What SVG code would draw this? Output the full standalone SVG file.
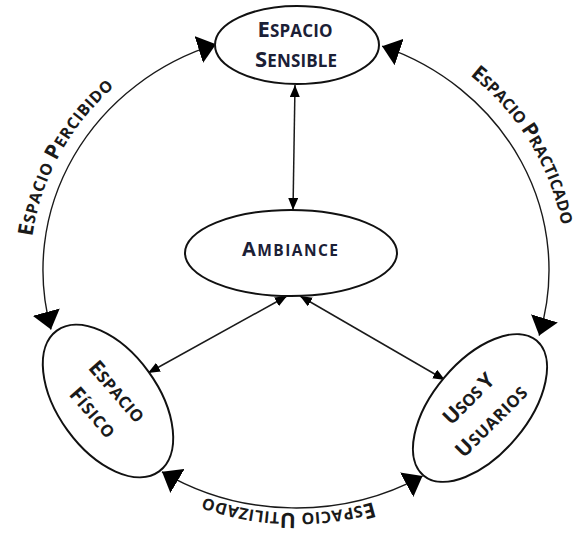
<svg xmlns="http://www.w3.org/2000/svg" width="581" height="537" viewBox="0 0 581 537">
<style>
.node ellipse{fill:#fff;stroke:#111;stroke-width:2}
.t{font-family:"Open Sans","Liberation Sans",sans-serif;font-weight:700;fill:#1a1a1a;text-anchor:middle}
.tb{fill:#1b2036}
.conn path{fill:none;stroke:#1a1a1a}
.arc{stroke-width:1.4}
.ar{stroke-width:1.5}
.lbl{font-family:"Open Sans","Liberation Sans",sans-serif;font-weight:700;fill:#1a1a1a}
.c{font-size:21px}
.s{font-size:16px}
</style>
<defs>
<marker id="big" viewBox="0 0 18 28" refX="18" refY="14" markerWidth="18" markerHeight="28" markerUnits="userSpaceOnUse" orient="auto-start-reverse"><path d="M0,0 L18,14 L0,28 z" fill="#000"/></marker>
<marker id="sm" viewBox="0 0 12 10" refX="12" refY="5" markerWidth="12" markerHeight="10" markerUnits="userSpaceOnUse" orient="auto-start-reverse"><path d="M0,0 L12,5 L0,10 z" fill="#000"/></marker>
<path id="pL" d="M34,313.6 A266 251 0 0 1 179.4,44.4"/>
<path id="pR" d="M403,36 A270 255 0 0 1 563.7,302.8"/>
<path id="pB" d="M444,469.1 A258 243 0 0 1 135,459.9"/>
</defs>
<rect width="581" height="537" fill="#fff"/>
<g class="conn" id="connectors">
<path class="arc" d="M216,44.2 A253 238 0 0 0 51,329.5" marker-start="url(#big)" marker-end="url(#big)"/>
<path class="arc" d="M382.1,46.2 A253 238 0 0 1 539.2,335.6" marker-start="url(#big)" marker-end="url(#big)"/>
<path class="arc" d="M162,471.8 A253 238 0 0 0 422.5,476.1" marker-start="url(#big)" marker-end="url(#big)"/>
<path class="ar" d="M295,85 L293,210" marker-start="url(#sm)" marker-end="url(#sm)"/>
<path class="ar" d="M287,296 L148,373" marker-start="url(#sm)" marker-end="url(#sm)"/>
<path class="ar" d="M300,296 L445,380" marker-start="url(#sm)" marker-end="url(#sm)"/>
</g>
<g id="labels">
<text class="lbl" letter-spacing="0.7"><textPath href="#pL" startOffset="50%" text-anchor="middle"><tspan class="c">E</tspan><tspan class="s">SPACIO </tspan><tspan class="c">P</tspan><tspan class="s">ERCIBIDO</tspan></textPath></text>
<text class="lbl" letter-spacing="0"><textPath href="#pR" startOffset="50%" text-anchor="middle"><tspan class="c">E</tspan><tspan class="s">SPACIO </tspan><tspan class="c">P</tspan><tspan class="s">RACTICADO</tspan></textPath></text>
<text class="lbl" letter-spacing="0.5"><textPath href="#pB" startOffset="50%" text-anchor="middle"><tspan class="c">E</tspan><tspan class="s">SPACIO </tspan><tspan class="c">U</tspan><tspan class="s">TILIZADO</tspan></textPath></text>
</g>
<g class="node" id="espacio-sensible">
<ellipse cx="297" cy="45" rx="82" ry="39"/>
<text class="t tb" x="295" y="37" textLength="75" lengthAdjust="spacing"><tspan font-size="22">E</tspan><tspan font-size="17">SPACIO</tspan></text>
<text class="t tb" x="296" y="67" textLength="82" lengthAdjust="spacing"><tspan font-size="22">S</tspan><tspan font-size="17">ENSIBLE</tspan></text>
</g>
<g class="node" id="ambiance">
<ellipse cx="291" cy="253" rx="106" ry="43"/>
<text class="t tb" x="290" y="256" textLength="96" lengthAdjust="spacing"><tspan font-size="20">A</tspan><tspan font-size="15.5">MBIANCE</tspan></text>
</g>
<g class="node" id="espacio-fisico">
<ellipse cx="108" cy="401" rx="87" ry="50" transform="rotate(54 108 401)"/>
<g transform="translate(105 402) rotate(49)">
<text class="t" x="0" y="-9" textLength="74" lengthAdjust="spacing"><tspan font-size="21">E</tspan><tspan font-size="16.5">SPACIO</tspan></text>
<text class="t" x="0" y="23" textLength="59" lengthAdjust="spacing"><tspan font-size="21">F</tspan><tspan font-size="16.5">ÍSICO</tspan></text>
</g>
</g>
<g class="node" id="usos-usuarios">
<ellipse cx="480" cy="408" rx="88" ry="47" transform="rotate(-50 480 408)"/>
<g transform="translate(480 410) rotate(-45)">
<text class="t" x="0" y="-9" textLength="63" lengthAdjust="spacing"><tspan font-size="21">U</tspan><tspan font-size="16.5">SOS </tspan><tspan font-size="21">Y</tspan></text>
<text class="t" x="0" y="23" textLength="92" lengthAdjust="spacing"><tspan font-size="21">U</tspan><tspan font-size="16.5">SUARIOS</tspan></text>
</g>
</g>
</svg>
